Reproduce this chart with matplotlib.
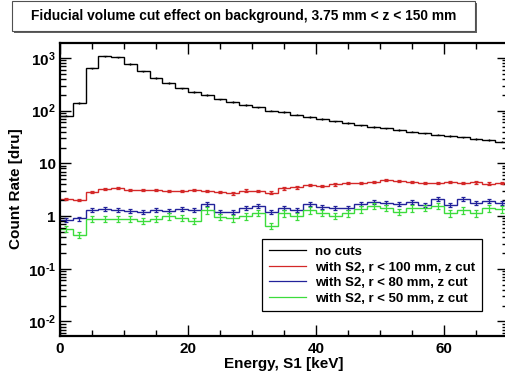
import numpy as np
import matplotlib
matplotlib.use("Agg")
import matplotlib.pyplot as plt
from matplotlib.lines import Line2D
from matplotlib.patches import Rectangle
from matplotlib.ticker import FixedLocator, LogLocator, FuncFormatter, NullFormatter

# 2 keV bins from 0 to 70 keV
bin_edges = np.arange(0, 72, 2)

no_cuts = [80, 140, 640, 1070, 1030, 775, 560, 415, 333, 267, 225,
	198, 165, 147, 129, 116, 100, 94, 84, 76, 69, 63,
	58, 53, 49, 46, 43, 40, 37, 35, 33, 31, 29, 28, 26]
cut_r100 = [2.08, 2.0, 2.9, 3.26, 3.46, 3.12, 3.12, 3.12, 2.95, 3.0, 3.1,
	3.0, 2.9, 2.7, 3.05, 2.98, 2.8, 3.36, 3.5, 3.9, 3.75, 4.0,
	4.2, 4.3, 4.5, 4.8, 4.6, 4.45, 4.3, 4.3, 4.45, 4.2, 4.35, 4.15, 4.3]
cut_r80 = [0.84, 0.9, 1.3, 1.36, 1.3, 1.25, 1.19, 1.33, 1.27, 1.36, 1.33,
	1.67, 1.2, 1.2, 1.44, 1.55, 1.2, 1.44, 1.3, 1.67, 1.5, 1.44,
	1.45, 1.67, 1.87, 1.75, 1.7, 1.87, 1.6, 2.08, 1.6, 2.08, 1.8, 1.95, 1.75]
cut_r50 = [0.58, 0.44, 0.88, 0.88, 0.88, 0.88, 0.81, 0.88, 1.0, 0.92, 0.81,
	1.3, 0.97, 0.9, 1.0, 1.16, 0.65, 1.12, 1.0, 1.3, 1.15, 1.02,
	1.13, 1.34, 1.55, 1.45, 1.2, 1.42, 1.45, 1.55, 1.12, 1.3, 1.12, 1.4, 1.35]

# rough relative size of the error bars of each series
rel_err = [0.03, 0.05, 0.09, 0.14]

labels = ["no cuts", "with S2, r < 100 mm, z cut",
	"with S2, r < 80 mm, z cut", "with S2, r < 50 mm, z cut"]
colors = ["black", "#d42828", "#22229a", "#3cdc3c"]

plt.rcParams["font.family"] = ["Liberation Sans", "DejaVu Sans"]
plt.rcParams["font.weight"] = "bold"
plt.rcParams["mathtext.fontset"] = "custom"
plt.rcParams["mathtext.rm"] = "Liberation Sans:bold"
plt.rcParams["mathtext.default"] = "rm"


def log_label(v, pos):
	e = int(round(np.log10(v)))
	if e == 0:
		return "1"
	if e == 1:
		return "10"
	# plain hyphen like ROOT, not a math minus
	return r"$10^{%s}$" % str(e).replace("-", "\\text{-}")


def main():
	fig = plt.figure(figsize=(5.06, 3.78), dpi=100)
	ax = fig.add_axes([60 / 506, 1 - 336 / 378, 448 / 506, 293.3 / 378])

	centers = (bin_edges[:-1] + bin_edges[1:]) / 2
	series = [no_cuts, cut_r100, cut_r80, cut_r50]
	for vals, c, err in zip(series, colors, rel_err):
		vals = np.array(vals)
		ax.stairs(vals, bin_edges, color=c, lw=1.0, baseline=None)
		ax.errorbar(centers, vals, yerr=vals * err, fmt="none", ecolor=c,
			elinewidth=0.9, capsize=0 if c == "black" else 1.5, capthick=0.9)
		if c == colors[1]:
			ax.plot(centers, vals, "o", color=c, ms=2.0, mew=0)
		if c == "black":
			ax.plot(centers, vals, "_", color=c, ms=3, mew=0.9)

	ax.set_yscale("log")
	ax.set_xlim(0, 70)
	ax.set_ylim(0.0053, 1950)

	ax.xaxis.set_major_locator(FixedLocator([0, 20, 40, 60]))
	ax.xaxis.set_minor_locator(FixedLocator([5, 10, 15, 25, 30, 35, 45, 50, 55, 65]))
	ax.yaxis.set_major_locator(LogLocator(base=10, numticks=10))
	ax.yaxis.set_minor_locator(LogLocator(base=10, subs=np.arange(2, 10), numticks=20))
	ax.yaxis.set_major_formatter(FuncFormatter(log_label))
	ax.yaxis.set_minor_formatter(NullFormatter())

	ax.tick_params(which="both", direction="in", top=True, right=True, width=1.0)
	ax.tick_params(which="major", length=8, labelsize=11)
	ax.tick_params(which="minor", length=4)
	ax.tick_params(axis="x", pad=4)
	ax.tick_params(axis="y", pad=3)
	for s in ax.spines.values():
		s.set_linewidth(1.6)

	# axis titles placed like the ROOT canvas
	fig.text(284 / 506, 1 - 364 / 378, "Energy, S1 [keV]", ha="center", va="center",
		fontsize=11, fontweight="bold")
	fig.text(16 / 506, 1 - 189 / 378, "Count Rate [dru]", ha="center", va="center",
		rotation=90, fontsize=11, fontweight="bold")

	handles = [Line2D([], [], color=c, lw=0.9) for c in colors]
	leg = ax.legend(handles, labels, loc="upper left", bbox_to_anchor=(0.452, 0.33),
		borderaxespad=0, fontsize=9.5, handlelength=2.8, handletextpad=0.7,
		labelspacing=0.25, borderpad=0.5, fancybox=False, framealpha=1)
	leg.get_frame().set_edgecolor("black")
	leg.get_frame().set_linewidth(0.9)

	# title pave with a small shadow
	fig.patches.append(Rectangle((14 / 506, 1 - 33 / 378), 463 / 506, 30 / 378,
		transform=fig.transFigure, facecolor="#606060", edgecolor="none"))
	fig.patches.append(Rectangle((12 / 506, 1 - 31 / 378), 463 / 506, 30 / 378,
		transform=fig.transFigure, facecolor="white", edgecolor="#505050", lw=0.8))
	fig.text(243.5 / 506, 1 - 16 / 378, "Fiducial volume cut effect on background, 3.75 mm < z < 150 mm",
		ha="center", va="center", fontsize=9.9, fontweight="bold")

	fig.savefig("out.png", dpi=100)


if __name__ == "__main__":
	main()
